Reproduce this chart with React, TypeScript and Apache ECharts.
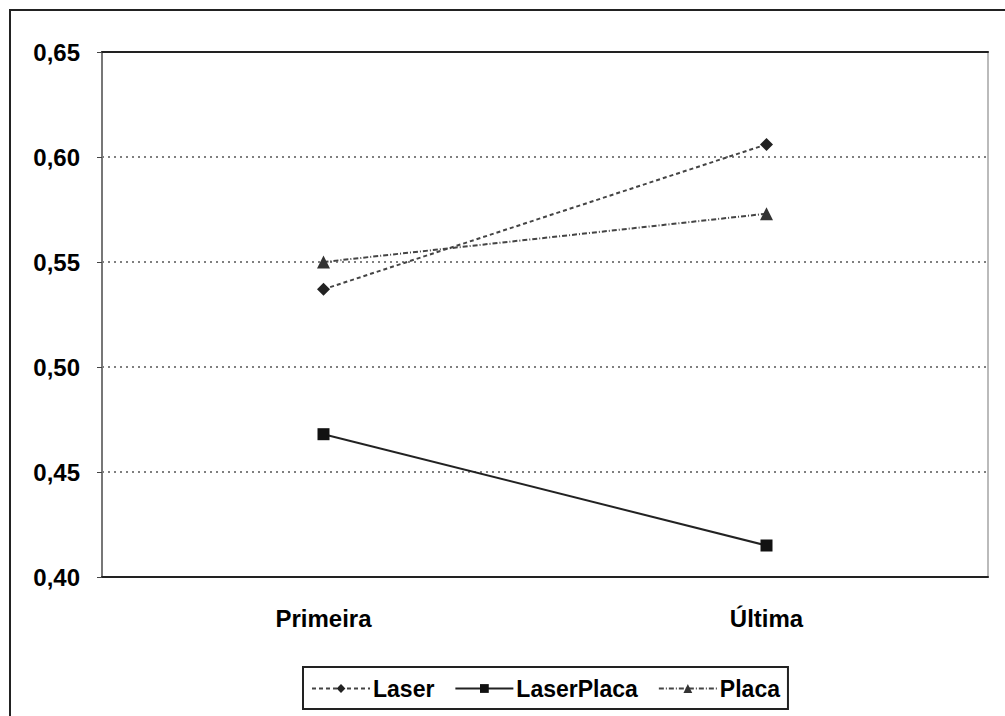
import React, { useEffect, useRef } from "react";
import * as echarts from "echarts";

const categories = ["Primeira", "Última"];
const laser = [0.537, 0.606];
const laserPlaca = [0.468, 0.415];
const placa = [0.55, 0.573];
const yTicks = { min: 0.4, max: 0.65, interval: 0.05 };

export default function App() {
  const ref = useRef<HTMLDivElement>(null);
  useEffect(() => {
    document.body.style.margin = "0";
    const chart = echarts.init(ref.current!, null, { renderer: "svg" });
    const font = "Liberation Sans";
    chart.setOption({
      animation: false,
      backgroundColor: "#ffffff",
      textStyle: { fontFamily: font },
      grid: { left: 102, right: 17, top: 52, bottom: 139 },
      graphic: [
        {
          type: "rect",
          shape: { x: 10, y: 10, width: 1010, height: 720 },
          style: { fill: "none", stroke: "#222", lineWidth: 2 },
          silent: true,
        },
      ],
      legend: {
        bottom: 7,
        left: 303,
        data: ["Laser", "LaserPlaca", "Placa"],
        orient: "horizontal",
        borderColor: "#222",
        borderWidth: 2,
        padding: [10, 8, 9, 8],
        itemGap: 20,
        itemWidth: 58,
        itemHeight: 11,
        textStyle: { fontFamily: font, fontSize: 23, fontWeight: "bold", color: "#000", padding: [0, 0, 0, -2] },
      },
      xAxis: [
        {
          type: "category",
          data: categories,
          boundaryGap: true,
          axisLine: { lineStyle: { color: "#222", width: 2 } },
          axisTick: { show: false },
          axisLabel: { fontFamily: font, fontSize: 24, fontWeight: "bold", color: "#000", margin: 29 },
        },
        {
          type: "category",
          data: categories,
          position: "top",
          axisLine: { lineStyle: { color: "#222", width: 2 } },
          axisTick: { show: false },
          axisLabel: { show: false },
        },
      ],
      yAxis: [
        {
          type: "value",
          min: yTicks.min,
          max: yTicks.max,
          interval: yTicks.interval,
          axisLine: { show: true, lineStyle: { color: "#777", width: 2 } },
          axisTick: { show: true, inside: false, length: 5, lineStyle: { color: "#444" } },
          axisLabel: {
            fontFamily: font,
            fontSize: 24,
            fontWeight: "bold",
            color: "#000",
            margin: 22,
            formatter: (v: number) => v.toFixed(2).replace(".", ","),
          },
          splitLine: { show: true, lineStyle: { color: "#555", type: [2, 4], width: 1.5 } },
        },
        {
          type: "value",
          position: "right",
          min: yTicks.min,
          max: yTicks.max,
          interval: yTicks.interval,
          axisLine: { show: true, lineStyle: { color: "#bbb", width: 2 } },
          axisTick: { show: false },
          axisLabel: { show: false },
          splitLine: { show: false },
        },
      ],
      series: [
        {
          name: "Laser",
          type: "line",
          data: laser,
          symbol: "diamond",
          symbolSize: 13,
          lineStyle: { color: "#444", width: 2, type: [4, 3] },
          itemStyle: { color: "#222" },
        },
        {
          name: "LaserPlaca",
          type: "line",
          data: laserPlaca,
          symbol: "rect",
          symbolSize: 12,
          lineStyle: { color: "#222", width: 2, type: "solid" },
          itemStyle: { color: "#111" },
        },
        {
          name: "Placa",
          type: "line",
          data: placa,
          symbol: "triangle",
          symbolSize: 13,
          lineStyle: { color: "#444", width: 2, type: [5, 2, 1, 2] },
          itemStyle: { color: "#333" },
        },
      ],
    });
    return () => chart.dispose();
  }, []);
  return <div ref={ref} style={{ width: 1005, height: 716 }} />;
}
